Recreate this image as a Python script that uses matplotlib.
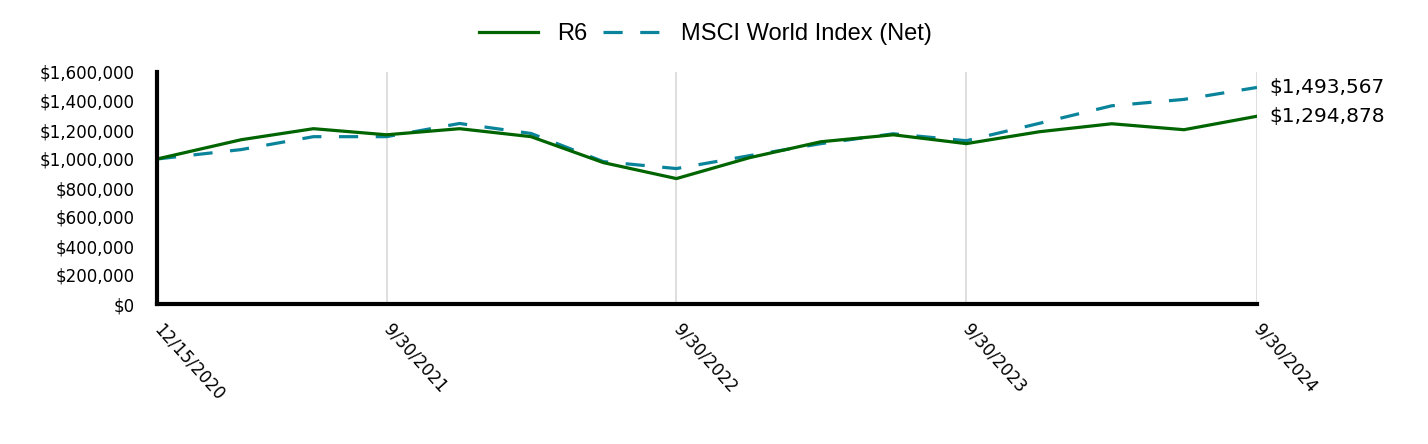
import numpy as np
import pandas as pd
import matplotlib
matplotlib.use("Agg")
import matplotlib.pyplot as plt
from matplotlib.ticker import FuncFormatter

# dados
datas = ["2020-12-15", "2021-03-31", "2021-06-30", "2021-09-30", "2021-12-31",
         "2022-03-31", "2022-06-30", "2022-09-30", "2022-12-31", "2023-03-31",
         "2023-06-30", "2023-09-30", "2023-12-31", "2024-03-31", "2024-06-30",
         "2024-09-30"]
r6 = [1000000, 1133000, 1209000, 1167000, 1209000, 1154000, 975000, 865000,
      1009000, 1119000, 1167000, 1106000, 1188000, 1243000, 1202000, 1294878]
msci = [1000000, 1065000, 1154000, 1154000, 1245000, 1176000, 982000, 934000,
        1023000, 1106000, 1174000, 1126000, 1246000, 1367000, 1411000, 1493567]
ticks_x = ["2020-12-15", "2021-09-30", "2022-09-30", "2023-09-30", "2024-09-30"]
rotulos_x = ["12/15/2020", "9/30/2021", "9/30/2022", "9/30/2023", "9/30/2024"]
nomes = ["R6", "MSCI World Index (Net)"]

verde = "#006400"
azul = "#0a849b"

x = pd.to_datetime(datas)

fig = plt.figure(figsize=(14.28, 4.44), dpi=100)
ax = fig.add_axes([157/1428, 1 - 304/444, 1100/1428, 232/444])

ax.plot(x, r6, color=verde, lw=2.3, label=nomes[0], zorder=3)
ax.plot(x, msci, color=azul, lw=2.3, dashes=(6, 5.5), label=nomes[1], zorder=2)

ax.set_xlim(x[0], x[-1])
ax.set_ylim(0, 1600000)
ax.set_yticks(np.arange(0, 1600001, 200000))
ax.yaxis.set_major_formatter(FuncFormatter(lambda v, p: "${:,.0f}".format(v)))
ax.set_xticks(pd.to_datetime(ticks_x))
ax.set_xticklabels(rotulos_x, rotation=-48, ha="left", va="center",
                   rotation_mode="anchor")
ax.tick_params(axis="y", length=0, pad=16, labelsize=12)
ax.tick_params(axis="x", length=0, pad=16, labelsize=12)

ax.grid(True, axis="x", color="#d9d9d9", lw=1.2)
ax.grid(False, axis="y")
for s in ["top", "right"]:
    ax.spines[s].set_visible(False)
for s in ["left", "bottom"]:
    ax.spines[s].set_linewidth(3)
    ax.spines[s].set_color("black")
    ax.spines[s].set_zorder(5)

for serie in [msci, r6]:
    ax.annotate("${:,.0f}".format(serie[-1]), xy=(x[-1], serie[-1]),
                xytext=(9, 0), textcoords="offset points", va="center",
                ha="left", fontsize=14.5, annotation_clip=False)

leg = fig.legend(loc="upper center", bbox_to_anchor=(0.494, 0.995), ncol=2,
                 frameon=False, handlelength=2.5, columnspacing=0.65,
                 handletextpad=0.8, prop={"family": "Liberation Sans", "size": 17})

fig.savefig("out.png", dpi=100)
